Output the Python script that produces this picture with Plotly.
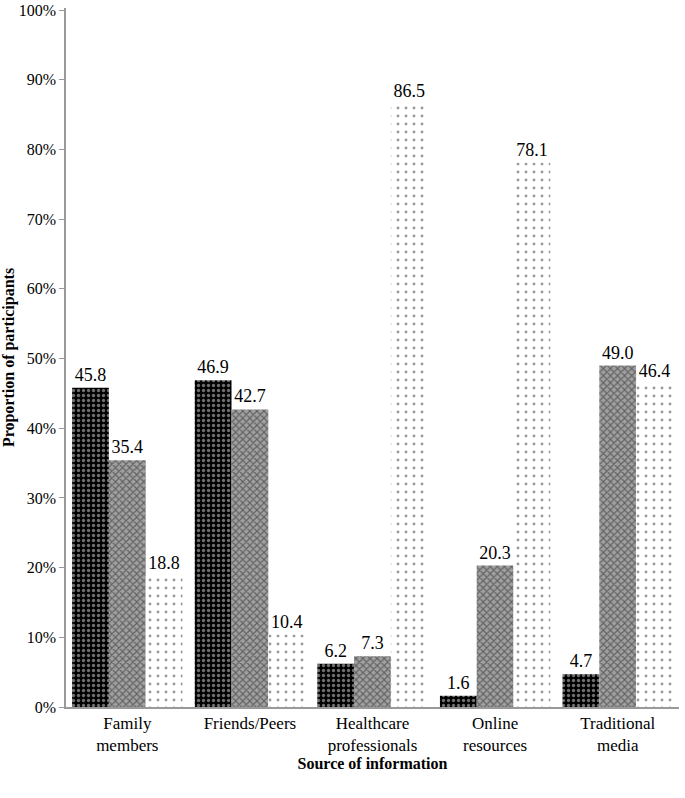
import plotly.graph_objects as go

categories = ["Family<br>members", "Friends/Peers", "Healthcare<br>professionals", "Online<br>resources", "Traditional<br>media"]
series_a = [45.8, 46.9, 6.2, 1.6, 4.7]
series_b = [35.4, 42.7, 7.3, 20.3, 49.0]
series_c = [18.8, 10.4, 86.5, 78.1, 46.4]
tick_vals = [0, 10, 20, 30, 40, 50, 60, 70, 80, 90, 100]
tick_text = ["0%", "10%", "20%", "30%", "40%", "50%", "60%", "70%", "80%", "90%", "100%"]

font = "Liberation Serif"

fig = go.Figure()
patterns = [
    dict(shape=".", bgcolor="black", fgcolor="#dddddd", size=5, solidity=0.35),
    dict(shape="x", bgcolor="#a0a0a0", fgcolor="#222222", size=5, solidity=0.4),
    dict(shape=".", bgcolor="white", fgcolor="#333333", size=8, solidity=0.1),
]
for vals, pat in zip([series_a, series_b, series_c], patterns):
    fig.add_trace(go.Bar(
        x=categories, y=vals,
        marker=dict(color="white", pattern=pat, line=dict(width=0)),
        text=[f"{v:.1f}" for v in vals], textposition="outside",
        textfont=dict(family=font, size=18, color="black"),
        cliponaxis=False, showlegend=False,
    ))

fig.update_layout(
    width=685, height=798,
    barmode="group", bargap=0.1, bargroupgap=0,
    plot_bgcolor="white", paper_bgcolor="white",
    margin=dict(l=66, r=6, t=8, b=91),
    font=dict(family=font, size=16, color="black"),
)
fig.update_xaxes(
    showline=True, linecolor="#999999", linewidth=1.5,
    ticks="", tickfont=dict(family=font, size=17), ticklabelstandoff=0,
    title=dict(text="<b>Source of information</b>", font=dict(family=font, size=16), standoff=3),
)
fig.update_yaxes(
    range=[0, 100.3], tickvals=tick_vals, ticktext=tick_text,
    showline=True, linecolor="#999999", linewidth=1.5,
    ticks="outside", ticklen=5, tickcolor="#999999",
    showgrid=False, zeroline=False, automargin=False,
    tickfont=dict(family=font, size=16),
    title=dict(text="<b>Proportion of participants</b>", font=dict(family=font, size=16), standoff=8),
)
fig.write_html("out.html", config={"displayModeBar": False},
               post_script="document.body.style.margin='0';")
